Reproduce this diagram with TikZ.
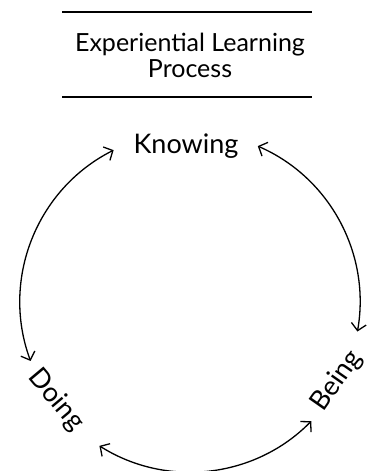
\documentclass[tikz,border=0pt]{standalone}
\usepackage{fontspec}
\setmainfont{Lato}
\usetikzlibrary{arrows.meta,calc}
\begin{document}
\begin{tikzpicture}[x=1pt,y=1pt,
  rule/.style={line width=1.3pt},
  cyc/.style={line width=1.3pt,{Straight Barb[length=7pt,width=15pt]}-{Straight Barb[length=7pt,width=15pt]}},
  lbl/.style={font=\fontsize{27}{30}\selectfont, inner sep=0pt}]
\useasboundingbox (0,0) rectangle (368,-471);
% title
\coordinate (t1) at (62,-12);
\coordinate (t2) at (312,-12);
\coordinate (b1) at (62,-97);
\coordinate (b2) at (312,-97);
\draw[rule] (t1) -- (t2);
\draw[rule] (b1) -- (b2);
\node[font=\fontsize{25}{26}\selectfont, align=center, inner sep=0pt] (title) at (190,-55) {Experiential Learning\\Process};
% labels
\node[lbl] (know) at (186,-146) {Knowing};
\node[lbl, rotate=-50] (doing) at (56,-400) {Doing};
\node[lbl, rotate=55] (being) at (337,-381) {Being};
% cycle
\coordinate (c) at (190,-302);
\coordinate (kl) at ($(c)+(116.7:170)$);
\coordinate (kr) at ($(c)+(66.5:170)$);
\coordinate (bl) at ($(c)+(237.8:170)$);
\draw[cyc] (kl) arc[start angle=116.7, end angle=200.3, radius=170];
\draw[cyc] (kr) arc[start angle=66.5, end angle=-10, radius=170];
\draw[cyc] (bl) arc[start angle=237.8, end angle=315.5, radius=170];
\end{tikzpicture}
\end{document}
